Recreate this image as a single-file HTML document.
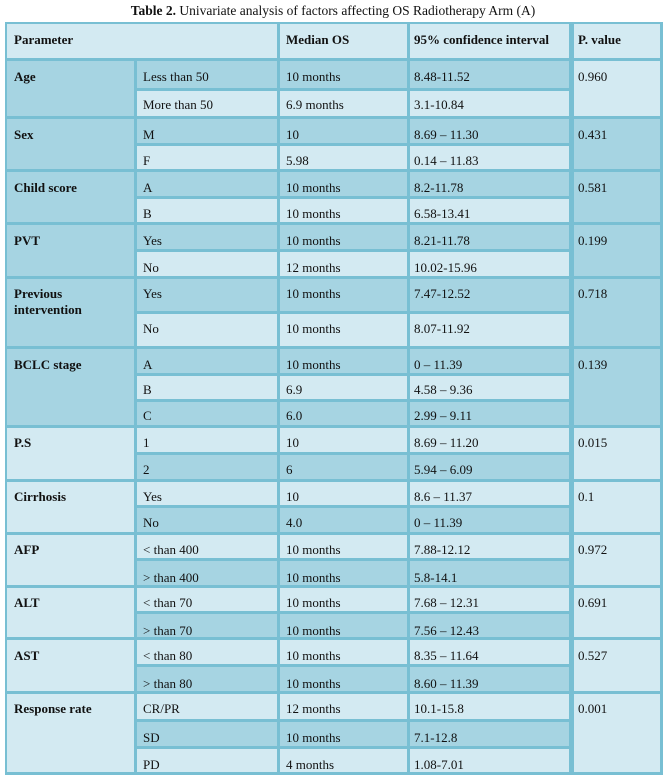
<!DOCTYPE html>
<html><head><meta charset="utf-8"><style>
body{margin:0;background:#fff;}
#w{position:relative;width:666px;height:780px;overflow:hidden;font-family:"Liberation Serif",serif;font-size:13px;color:#111;}
.tt{position:absolute;top:3px;left:0;width:666px;text-align:center;font-size:13.5px;line-height:16px;}
.bg{position:absolute;left:5px;top:22px;width:658px;height:753px;background:#78bfd3;}
.c{position:absolute;}
.L{background:#d3eaf2;}
.D{background:#a6d4e2;}
.t{position:absolute;line-height:16px;white-space:nowrap;}
.b{font-weight:bold;}
</style></head><body><div id="w">
<div class="tt"><b>Table 2.</b> Univariate analysis of factors affecting OS Radiotherapy Arm (A)</div>
<div class="bg"></div>
<!-- header -->
<div class="c L" style="left:7px;top:24px;width:270px;height:34px"></div>
<div class="c L" style="left:280px;top:24px;width:127px;height:34px"></div>
<div class="c L" style="left:410px;top:24px;width:159px;height:34px"></div>
<div class="c L" style="left:574px;top:24px;width:86px;height:34px"></div>
<div class="t b" style="left:14px;top:32px">Parameter</div>
<div class="t b" style="left:286px;top:32px">Median OS</div>
<div class="t b" style="left:414px;top:32px">95% confidence interval</div>
<div class="t b" style="left:578px;top:32px">P. value</div>

<!-- Age 59-117 split 89 -->
<div class="c D" style="left:7px;top:61px;width:127px;height:55px"></div>
<div class="c D" style="left:137px;top:61px;width:140px;height:27px"></div>
<div class="c D" style="left:280px;top:61px;width:127px;height:27px"></div>
<div class="c D" style="left:410px;top:61px;width:159px;height:27px"></div>
<div class="c L" style="left:137px;top:91px;width:140px;height:25px"></div>
<div class="c L" style="left:280px;top:91px;width:127px;height:25px"></div>
<div class="c L" style="left:410px;top:91px;width:159px;height:25px"></div>
<div class="c L" style="left:574px;top:61px;width:86px;height:55px"></div>
<div class="t b" style="left:14px;top:69px">Age</div>
<div class="t" style="left:143px;top:69px">Less than 50</div>
<div class="t" style="left:286px;top:69px">10 months</div>
<div class="t" style="left:414px;top:69px">8.48-11.52</div>
<div class="t" style="left:578px;top:69px">0.960</div>
<div class="t" style="left:143px;top:97px">More than 50</div>
<div class="t" style="left:286px;top:97px">6.9 months</div>
<div class="t" style="left:414px;top:97px">3.1-10.84</div>

<!-- Sex 117-170 split 144 -->
<div class="c D" style="left:7px;top:119px;width:127px;height:50px"></div>
<div class="c D" style="left:137px;top:119px;width:140px;height:24px"></div>
<div class="c D" style="left:280px;top:119px;width:127px;height:24px"></div>
<div class="c D" style="left:410px;top:119px;width:159px;height:24px"></div>
<div class="c L" style="left:137px;top:146px;width:140px;height:23px"></div>
<div class="c L" style="left:280px;top:146px;width:127px;height:23px"></div>
<div class="c L" style="left:410px;top:146px;width:159px;height:23px"></div>
<div class="c D" style="left:574px;top:119px;width:86px;height:50px"></div>
<div class="t b" style="left:14px;top:127px">Sex</div>
<div class="t" style="left:143px;top:127px">M</div>
<div class="t" style="left:286px;top:127px">10</div>
<div class="t" style="left:414px;top:127px">8.69 – 11.30</div>
<div class="t" style="left:578px;top:127px">0.431</div>
<div class="t" style="left:143px;top:153px">F</div>
<div class="t" style="left:286px;top:153px">5.98</div>
<div class="t" style="left:414px;top:153px">0.14 – 11.83</div>

<!-- Child 170-223 split 197 -->
<div class="c D" style="left:7px;top:172px;width:127px;height:50px"></div>
<div class="c D" style="left:137px;top:172px;width:140px;height:24px"></div>
<div class="c D" style="left:280px;top:172px;width:127px;height:24px"></div>
<div class="c D" style="left:410px;top:172px;width:159px;height:24px"></div>
<div class="c L" style="left:137px;top:199px;width:140px;height:23px"></div>
<div class="c L" style="left:280px;top:199px;width:127px;height:23px"></div>
<div class="c L" style="left:410px;top:199px;width:159px;height:23px"></div>
<div class="c D" style="left:574px;top:172px;width:86px;height:50px"></div>
<div class="t b" style="left:14px;top:180px">Child score</div>
<div class="t" style="left:143px;top:180px">A</div>
<div class="t" style="left:286px;top:180px">10 months</div>
<div class="t" style="left:414px;top:180px">8.2-11.78</div>
<div class="t" style="left:578px;top:180px">0.581</div>
<div class="t" style="left:143px;top:206px">B</div>
<div class="t" style="left:286px;top:206px">10 months</div>
<div class="t" style="left:414px;top:206px">6.58-13.41</div>

<!-- PVT 223-277 split 250 -->
<div class="c D" style="left:7px;top:225px;width:127px;height:51px"></div>
<div class="c D" style="left:137px;top:225px;width:140px;height:24px"></div>
<div class="c D" style="left:280px;top:225px;width:127px;height:24px"></div>
<div class="c D" style="left:410px;top:225px;width:159px;height:24px"></div>
<div class="c L" style="left:137px;top:252px;width:140px;height:24px"></div>
<div class="c L" style="left:280px;top:252px;width:127px;height:24px"></div>
<div class="c L" style="left:410px;top:252px;width:159px;height:24px"></div>
<div class="c D" style="left:574px;top:225px;width:86px;height:51px"></div>
<div class="t b" style="left:14px;top:233px">PVT</div>
<div class="t" style="left:143px;top:233px">Yes</div>
<div class="t" style="left:286px;top:233px">10 months</div>
<div class="t" style="left:414px;top:233px">8.21-11.78</div>
<div class="t" style="left:578px;top:233px">0.199</div>
<div class="t" style="left:143px;top:260px">No</div>
<div class="t" style="left:286px;top:260px">12 months</div>
<div class="t" style="left:414px;top:260px">10.02-15.96</div>

<!-- Prev 277-347 split 312 -->
<div class="c D" style="left:7px;top:279px;width:127px;height:67px"></div>
<div class="c D" style="left:137px;top:279px;width:140px;height:32px"></div>
<div class="c D" style="left:280px;top:279px;width:127px;height:32px"></div>
<div class="c D" style="left:410px;top:279px;width:159px;height:32px"></div>
<div class="c L" style="left:137px;top:314px;width:140px;height:32px"></div>
<div class="c L" style="left:280px;top:314px;width:127px;height:32px"></div>
<div class="c L" style="left:410px;top:314px;width:159px;height:32px"></div>
<div class="c D" style="left:574px;top:279px;width:86px;height:67px"></div>
<div class="t b" style="left:14px;top:286px">Previous</div>
<div class="t b" style="left:14px;top:302px">intervention</div>
<div class="t" style="left:143px;top:286px">Yes</div>
<div class="t" style="left:286px;top:286px">10 months</div>
<div class="t" style="left:414px;top:286px">7.47-12.52</div>
<div class="t" style="left:578px;top:286px">0.718</div>
<div class="t" style="left:143px;top:321px">No</div>
<div class="t" style="left:286px;top:321px">10 months</div>
<div class="t" style="left:414px;top:321px">8.07-11.92</div>

<!-- BCLC 347-426 splits 374,400 -->
<div class="c D" style="left:7px;top:349px;width:127px;height:76px"></div>
<div class="c D" style="left:137px;top:349px;width:140px;height:24px"></div>
<div class="c D" style="left:280px;top:349px;width:127px;height:24px"></div>
<div class="c D" style="left:410px;top:349px;width:159px;height:24px"></div>
<div class="c L" style="left:137px;top:376px;width:140px;height:23px"></div>
<div class="c L" style="left:280px;top:376px;width:127px;height:23px"></div>
<div class="c L" style="left:410px;top:376px;width:159px;height:23px"></div>
<div class="c D" style="left:137px;top:402px;width:140px;height:23px"></div>
<div class="c D" style="left:280px;top:402px;width:127px;height:23px"></div>
<div class="c D" style="left:410px;top:402px;width:159px;height:23px"></div>
<div class="c D" style="left:574px;top:349px;width:86px;height:76px"></div>
<div class="t b" style="left:14px;top:357px">BCLC stage</div>
<div class="t" style="left:143px;top:357px">A</div>
<div class="t" style="left:286px;top:357px">10 months</div>
<div class="t" style="left:414px;top:357px">0 – 11.39</div>
<div class="t" style="left:578px;top:357px">0.139</div>
<div class="t" style="left:143px;top:382px">B</div>
<div class="t" style="left:286px;top:382px">6.9</div>
<div class="t" style="left:414px;top:382px">4.58 – 9.36</div>
<div class="t" style="left:143px;top:408px">C</div>
<div class="t" style="left:286px;top:408px">6.0</div>
<div class="t" style="left:414px;top:408px">2.99 – 9.11</div>

<!-- PS 426-480 split 453 -->
<div class="c L" style="left:7px;top:428px;width:127px;height:51px"></div>
<div class="c L" style="left:137px;top:428px;width:140px;height:24px"></div>
<div class="c L" style="left:280px;top:428px;width:127px;height:24px"></div>
<div class="c L" style="left:410px;top:428px;width:159px;height:24px"></div>
<div class="c D" style="left:137px;top:455px;width:140px;height:24px"></div>
<div class="c D" style="left:280px;top:455px;width:127px;height:24px"></div>
<div class="c D" style="left:410px;top:455px;width:159px;height:24px"></div>
<div class="c L" style="left:574px;top:428px;width:86px;height:51px"></div>
<div class="t b" style="left:14px;top:435px">P.S</div>
<div class="t" style="left:143px;top:435px">1</div>
<div class="t" style="left:286px;top:435px">10</div>
<div class="t" style="left:414px;top:435px">8.69 – 11.20</div>
<div class="t" style="left:578px;top:435px">0.015</div>
<div class="t" style="left:143px;top:462px">2</div>
<div class="t" style="left:286px;top:462px">6</div>
<div class="t" style="left:414px;top:462px">5.94 – 6.09</div>

<!-- Cirr 480-533 split 506 -->
<div class="c L" style="left:7px;top:482px;width:127px;height:50px"></div>
<div class="c L" style="left:137px;top:482px;width:140px;height:23px"></div>
<div class="c L" style="left:280px;top:482px;width:127px;height:23px"></div>
<div class="c L" style="left:410px;top:482px;width:159px;height:23px"></div>
<div class="c D" style="left:137px;top:508px;width:140px;height:24px"></div>
<div class="c D" style="left:280px;top:508px;width:127px;height:24px"></div>
<div class="c D" style="left:410px;top:508px;width:159px;height:24px"></div>
<div class="c L" style="left:574px;top:482px;width:86px;height:50px"></div>
<div class="t b" style="left:14px;top:489px">Cirrhosis</div>
<div class="t" style="left:143px;top:489px">Yes</div>
<div class="t" style="left:286px;top:489px">10</div>
<div class="t" style="left:414px;top:489px">8.6 – 11.37</div>
<div class="t" style="left:578px;top:489px">0.1</div>
<div class="t" style="left:143px;top:515px">No</div>
<div class="t" style="left:286px;top:515px">4.0</div>
<div class="t" style="left:414px;top:515px">0 – 11.39</div>

<!-- AFP 533-586 split 559 -->
<div class="c L" style="left:7px;top:535px;width:127px;height:50px"></div>
<div class="c L" style="left:137px;top:535px;width:140px;height:23px"></div>
<div class="c L" style="left:280px;top:535px;width:127px;height:23px"></div>
<div class="c L" style="left:410px;top:535px;width:159px;height:23px"></div>
<div class="c D" style="left:137px;top:561px;width:140px;height:24px"></div>
<div class="c D" style="left:280px;top:561px;width:127px;height:24px"></div>
<div class="c D" style="left:410px;top:561px;width:159px;height:24px"></div>
<div class="c L" style="left:574px;top:535px;width:86px;height:50px"></div>
<div class="t b" style="left:14px;top:542px">AFP</div>
<div class="t" style="left:143px;top:542px">&lt; than 400</div>
<div class="t" style="left:286px;top:542px">10 months</div>
<div class="t" style="left:414px;top:542px">7.88-12.12</div>
<div class="t" style="left:578px;top:542px">0.972</div>
<div class="t" style="left:143px;top:570px">&gt; than 400</div>
<div class="t" style="left:286px;top:570px">10 months</div>
<div class="t" style="left:414px;top:570px">5.8-14.1</div>

<!-- ALT 586-638 split 612 -->
<div class="c L" style="left:7px;top:588px;width:127px;height:49px"></div>
<div class="c L" style="left:137px;top:588px;width:140px;height:23px"></div>
<div class="c L" style="left:280px;top:588px;width:127px;height:23px"></div>
<div class="c L" style="left:410px;top:588px;width:159px;height:23px"></div>
<div class="c D" style="left:137px;top:614px;width:140px;height:23px"></div>
<div class="c D" style="left:280px;top:614px;width:127px;height:23px"></div>
<div class="c D" style="left:410px;top:614px;width:159px;height:23px"></div>
<div class="c L" style="left:574px;top:588px;width:86px;height:49px"></div>
<div class="t b" style="left:14px;top:595px">ALT</div>
<div class="t" style="left:143px;top:595px">&lt; than 70</div>
<div class="t" style="left:286px;top:595px">10 months</div>
<div class="t" style="left:414px;top:595px">7.68 – 12.31</div>
<div class="t" style="left:578px;top:595px">0.691</div>
<div class="t" style="left:143px;top:623px">&gt; than 70</div>
<div class="t" style="left:286px;top:623px">10 months</div>
<div class="t" style="left:414px;top:623px">7.56 – 12.43</div>

<!-- AST 638-692 split 665 -->
<div class="c L" style="left:7px;top:640px;width:127px;height:51px"></div>
<div class="c L" style="left:137px;top:640px;width:140px;height:24px"></div>
<div class="c L" style="left:280px;top:640px;width:127px;height:24px"></div>
<div class="c L" style="left:410px;top:640px;width:159px;height:24px"></div>
<div class="c D" style="left:137px;top:667px;width:140px;height:24px"></div>
<div class="c D" style="left:280px;top:667px;width:127px;height:24px"></div>
<div class="c D" style="left:410px;top:667px;width:159px;height:24px"></div>
<div class="c L" style="left:574px;top:640px;width:86px;height:51px"></div>
<div class="t b" style="left:14px;top:648px">AST</div>
<div class="t" style="left:143px;top:648px">&lt; than 80</div>
<div class="t" style="left:286px;top:648px">10 months</div>
<div class="t" style="left:414px;top:648px">8.35 – 11.64</div>
<div class="t" style="left:578px;top:648px">0.527</div>
<div class="t" style="left:143px;top:676px">&gt; than 80</div>
<div class="t" style="left:286px;top:676px">10 months</div>
<div class="t" style="left:414px;top:676px">8.60 – 11.39</div>

<!-- Response 692-773 splits 720,747 -->
<div class="c L" style="left:7px;top:694px;width:127px;height:78px"></div>
<div class="c L" style="left:137px;top:694px;width:140px;height:25px"></div>
<div class="c L" style="left:280px;top:694px;width:127px;height:25px"></div>
<div class="c L" style="left:410px;top:694px;width:159px;height:25px"></div>
<div class="c D" style="left:137px;top:722px;width:140px;height:24px"></div>
<div class="c D" style="left:280px;top:722px;width:127px;height:24px"></div>
<div class="c D" style="left:410px;top:722px;width:159px;height:24px"></div>
<div class="c L" style="left:137px;top:749px;width:140px;height:23px"></div>
<div class="c L" style="left:280px;top:749px;width:127px;height:23px"></div>
<div class="c L" style="left:410px;top:749px;width:159px;height:23px"></div>
<div class="c L" style="left:574px;top:694px;width:86px;height:78px"></div>
<div class="t b" style="left:14px;top:701px">Response rate</div>
<div class="t" style="left:143px;top:701px">CR/PR</div>
<div class="t" style="left:286px;top:701px">12 months</div>
<div class="t" style="left:414px;top:701px">10.1-15.8</div>
<div class="t" style="left:578px;top:701px">0.001</div>
<div class="t" style="left:143px;top:730px">SD</div>
<div class="t" style="left:286px;top:730px">10 months</div>
<div class="t" style="left:414px;top:730px">7.1-12.8</div>
<div class="t" style="left:143px;top:757px">PD</div>
<div class="t" style="left:286px;top:757px">4 months</div>
<div class="t" style="left:414px;top:757px">1.08-7.01</div>
</div></body></html>
